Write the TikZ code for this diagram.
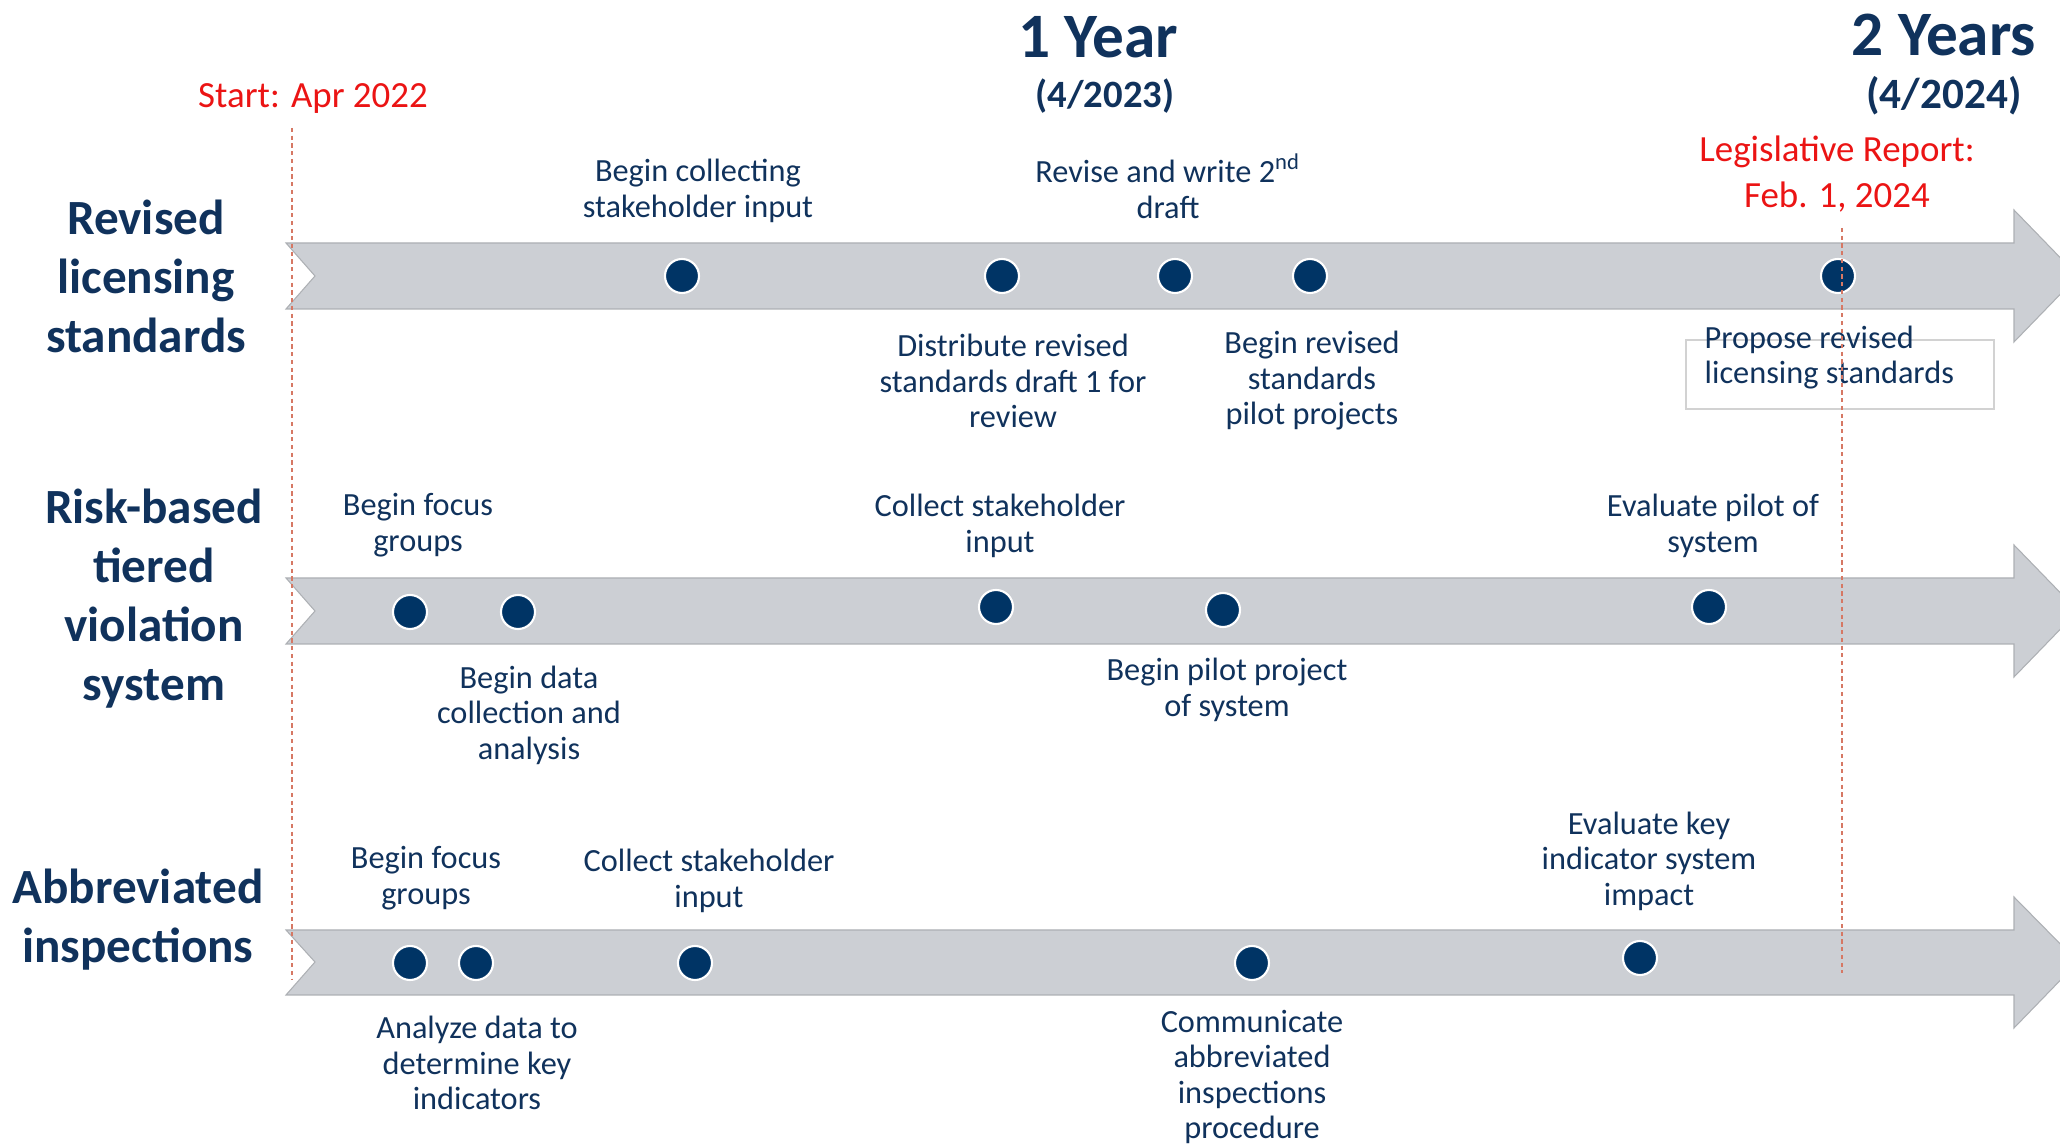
\documentclass[tikz,border=0pt]{standalone}
\usepackage{fontspec}
\setmainfont{Carlito}
\usetikzlibrary{positioning}
\definecolor{navycolor}{RGB}{16,50,92}
\definecolor{dotcolor}{RGB}{0,52,101}
\definecolor{bandcolor}{RGB}{204,207,212}
\definecolor{redcolor}{RGB}{235,20,20}
\definecolor{markcolor}{RGB}{214,120,100}

\begin{document}
\begin{tikzpicture}[
        milestone/.style={circle, fill=dotcolor, draw=white, line width=0.6pt, minimum size=0.34cm, inner sep=0pt},
        tasktext/.style={text=navycolor, align=center, font=\fontsize{9.2}{10.1}\selectfont, inner sep=0pt, yshift=-0.03cm},
        rowtitle/.style={text=navycolor, align=center, font=\bfseries\fontsize{14}{16.8}\selectfont, inner sep=0pt},
        yeartitle/.style={text=navycolor, font=\bfseries\fontsize{18}{20}\selectfont, inner sep=0pt},
        yeardate/.style={text=navycolor, font=\bfseries\fontsize{11}{13}\selectfont, inner sep=0pt},
        redtext/.style={text=redcolor, align=center, font=\fontsize{10.5}{13.1}\selectfont, inner sep=0pt},
        band/.style={fill=bandcolor, draw=bandcolor!85!black, line width=0.3pt},
        deadline/.style={draw=markcolor, line width=0.8pt, dash pattern=on 1.2pt off 1pt}
    ]
        \useasboundingbox (0,0) rectangle (20.6,-11.44);

        % Timeline bands
        \draw[band] (2.86,-2.43) -- (20.14,-2.43) -- (20.14,-2.10) -- (20.78,-2.76) -- (20.14,-3.42) -- (20.14,-3.09) -- (2.86,-3.09) -- (3.15,-2.76) -- cycle;
        \draw[band] (2.86,-5.78) -- (20.14,-5.78) -- (20.14,-5.45) -- (20.78,-6.11) -- (20.14,-6.77) -- (20.14,-6.44) -- (2.86,-6.44) -- (3.15,-6.11) -- cycle;
        \draw[band] (2.86,-9.30) -- (20.14,-9.30) -- (20.14,-8.97) -- (20.78,-9.62) -- (20.14,-10.28) -- (20.14,-9.95) -- (2.86,-9.95) -- (3.15,-9.62) -- cycle;

        % Year headings
        \node[yeartitle] (year1) at (10.98,-0.37) {1 Year};
        \node[yeardate] (date1) at (11.05,-0.96) {(4/2023)};
        \node[yeartitle] (year2) at (19.44,-0.35) {2 Years};
        \node[yeardate, font=\bfseries\fontsize{12.3}{14}\selectfont] (date2) at (19.44,-0.96) {(4/2024)};
        \node[redtext] (start) at (3.13,-0.99) {Start: Apr 2022};
        \node[redtext] (report) at (18.37,-1.74) {Legislative Report:\\Feb. 1, 2024};

        % Row titles
        \node[rowtitle] (licensing) at (1.46,-2.76) {Revised\\licensing\\standards};
        \node[rowtitle] (violation) at (1.54,-5.99) {Risk-based\\tiered\\violation\\system};
        \node[rowtitle] (inspections) at (1.38,-9.20) {Abbreviated\\inspections};

        % Revised licensing standards
        \node[milestone] (lic1) at (6.82,-2.76) {};
        \node[milestone] (lic2) at (10.02,-2.76) {};
        \node[milestone] (lic3) at (11.75,-2.76) {};
        \node[milestone] (lic4) at (13.10,-2.76) {};
        \node[milestone] (lic5) at (18.38,-2.76) {};
        \node[tasktext] (lic1_text) at (6.98,-1.88) {Begin collecting\\stakeholder input};
        \node[tasktext] (lic3_text) at (11.68,-1.83) {Revise and write 2\textsuperscript{nd}\\draft};
        \node[tasktext] (lic2_text) at (10.13,-3.78) {Distribute revised\\standards draft 1 for\\review};
        \node[tasktext] (lic4_text) at (13.12,-3.78) {Begin revised\\standards\\pilot projects};
        \node[draw=gray!35, line width=0.5pt, minimum width=3.08cm, minimum height=0.69cm, inner sep=0pt] (propose_box) at (18.40,-3.745) {};
        \node[tasktext, align=left, anchor=north west] (lic5_text) at (17.04,-3.22) {Propose revised\\licensing standards};

        % Risk-based tiered violation system
        \node[milestone] (vio1) at (4.10,-6.12) {};
        \node[milestone] (vio2) at (5.18,-6.12) {};
        \node[milestone] (vio3) at (9.96,-6.07) {};
        \node[milestone] (vio4) at (12.23,-6.10) {};
        \node[milestone] (vio5) at (17.09,-6.07) {};
        \node[tasktext] (vio1_text) at (4.18,-5.22) {Begin focus\\groups};
        \node[tasktext] (vio3_text) at (10.00,-5.23) {Collect stakeholder\\input};
        \node[tasktext] (vio5_text) at (17.13,-5.23) {Evaluate pilot of\\system};
        \node[tasktext] (vio2_text) at (5.29,-7.12) {Begin data\\collection and\\analysis};
        \node[tasktext] (vio4_text) at (12.27,-6.87) {Begin pilot project\\of system};

        % Abbreviated inspections
        \node[milestone] (ins1) at (4.10,-9.63) {};
        \node[milestone] (ins2) at (4.76,-9.63) {};
        \node[milestone] (ins3) at (6.95,-9.63) {};
        \node[milestone] (ins4) at (12.52,-9.63) {};
        \node[milestone] (ins5) at (16.40,-9.58) {};
        \node[tasktext] (ins1_text) at (4.26,-8.75) {Begin focus\\groups};
        \node[tasktext] (ins3_text) at (7.09,-8.78) {Collect stakeholder\\input};
        \node[tasktext] (ins5_text) at (16.49,-8.58) {Evaluate key\\indicator system\\impact};
        \node[tasktext] (ins2_text) at (4.77,-10.60) {Analyze data to\\determine key\\indicators};
        \node[tasktext] (ins4_text) at (12.52,-10.74) {Communicate\\abbreviated\\inspections\\procedure};

        % Start and report markers
        \coordinate (start_top) at (2.92,-1.28);
        \coordinate (start_bottom) at (2.92,-9.80);
        \coordinate (report_top) at (18.42,-2.28);
        \coordinate (report_bottom) at (18.42,-9.73);
        \draw[deadline] (start_top) -- (start_bottom);
        \draw[deadline] (report_top) -- (report_bottom);

    \end{tikzpicture}
\end{document}
